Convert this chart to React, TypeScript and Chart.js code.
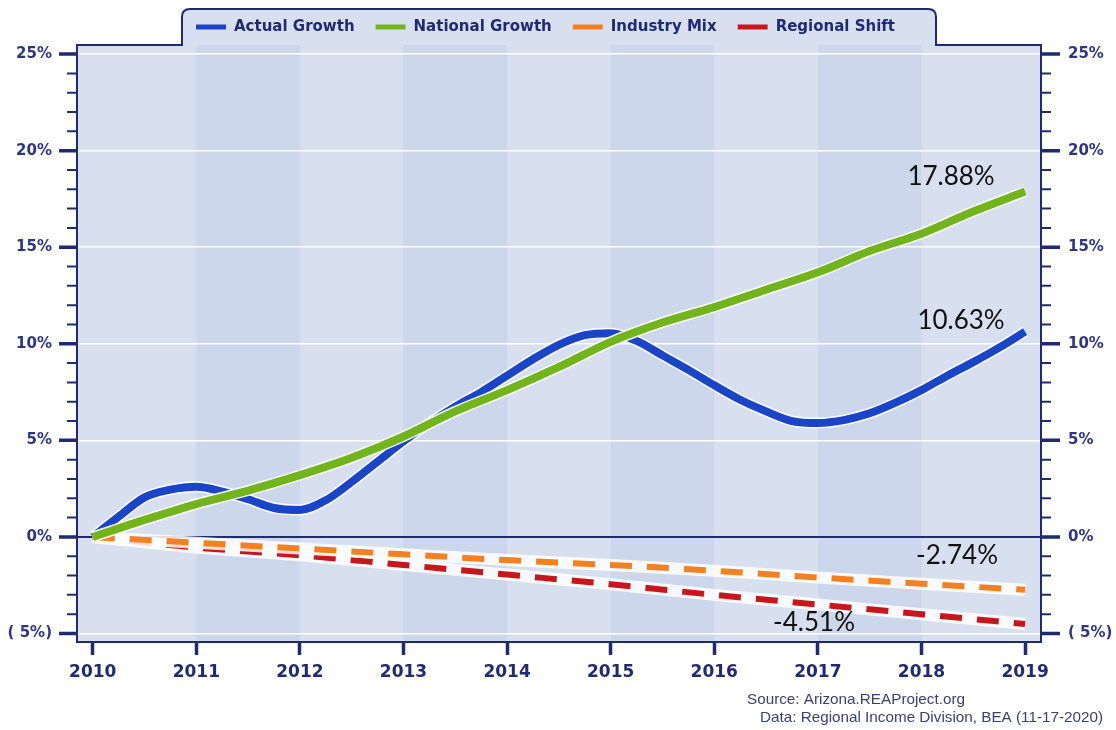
import React, { useEffect, useRef } from 'react';
import { Chart, registerables } from 'chart.js';

Chart.register(...registerables);

// ---------- data ----------
const actualYears = [
  2010, 2010.25, 2010.5, 2010.75, 2011, 2011.25, 2011.5, 2011.75, 2012, 2012.25, 2012.5, 2012.75,
  2013, 2013.25, 2013.5, 2013.75, 2014, 2014.25, 2014.5, 2014.75, 2015, 2015.25, 2015.5, 2015.75,
  2016, 2016.25, 2016.5, 2016.75, 2017, 2017.25, 2017.5, 2017.75, 2018, 2018.25, 2018.5, 2018.75, 2019,
];
const actualGrowth = [
  0, 1.05, 2.05, 2.45, 2.6, 2.35, 1.95, 1.5, 1.4, 1.9, 2.85, 3.9,
  4.95, 5.9, 6.75, 7.5, 8.35, 9.2, 9.95, 10.45, 10.55, 10.15, 9.4, 8.65,
  7.85, 7.1, 6.5, 6.0, 5.9, 6.05, 6.4, 6.95, 7.6, 8.35, 9.05, 9.8, 10.63,
];
const nationalYears = [
  2010, 2010.5, 2011, 2011.5, 2012, 2012.5, 2013, 2013.5, 2014, 2014.5,
  2015, 2015.5, 2016, 2016.5, 2017, 2017.5, 2018, 2018.5, 2019,
];
const nationalGrowth = [
  0, 0.88, 1.7, 2.4, 3.2, 4.1, 5.2, 6.5, 7.6, 8.8,
  10.1, 11.1, 11.9, 12.8, 13.7, 14.8, 15.7, 16.85, 17.88,
];
const annualYears = [2010, 2011, 2012, 2013, 2014, 2015, 2016, 2017, 2018, 2019];
const industryMix = [0, -0.3, -0.6, -0.9, -1.2, -1.45, -1.75, -2.1, -2.42, -2.74];
const regionalShift = [0, -0.55, -0.95, -1.45, -1.95, -2.45, -3.0, -3.5, -4.0, -4.51];

const xTickYears = [2010, 2011, 2012, 2013, 2014, 2015, 2016, 2017, 2018, 2019];
const yTickValues = [
  -5, -4, -3, -2, -1, 0, 1, 2, 3, 4, 5, 6, 7, 8, 9, 10, 11, 12, 13, 14, 15,
  16, 17, 18, 19, 20, 21, 22, 23, 24, 25,
];
const shadedRanges = [
  [2011, 2012],
  [2013, 2014],
  [2015, 2016],
  [2017, 2018],
];
const seriesNames = ['Actual Growth', 'National Growth', 'Industry Mix', 'Regional Shift'];
const seriesColors = ['#1a45c9', '#72b41b', '#f5801f', '#c9161d'];
const endLabels = ['10.63%', '17.88%', '-2.74%', '-4.51%'];
const sourceLines = ['Source: Arizona.REAProject.org', 'Data: Regional Income Division, BEA (11-17-2020)'];

const NAVY = '#1f2a72';
const BG = '#d8e0f0';
const BAND = '#cdd7eb';

const pts = (xs: number[], ys: number[]) => xs.map((x, i) => ({ x, y: ys[i] }));
const fmtPct = (v: number) => (v < 0 ? `( ${-v}%)` : `${v}%`);

const framePlugin = {
  id: 'frame',
  beforeDraw(chart: any) {
    const { ctx, chartArea: a, scales } = chart;
    const x = scales.x;
    ctx.save();
    ctx.fillStyle = '#ffffff';
    ctx.fillRect(0, 0, chart.width, chart.height);
    ctx.fillStyle = BG;
    ctx.fillRect(a.left, a.top, a.right - a.left, a.bottom - a.top);
    // legend tab background
    ctx.beginPath();
    ctx.moveTo(182, a.top + 1);
    ctx.lineTo(182, 17);
    ctx.quadraticCurveTo(182, 9, 190, 9);
    ctx.lineTo(928, 9);
    ctx.quadraticCurveTo(936, 9, 936, 17);
    ctx.lineTo(936, a.top + 1);
    ctx.closePath();
    ctx.fill();
    ctx.fillStyle = BAND;
    shadedRanges.forEach(([s, e]) => {
      const l = x.getPixelForValue(s);
      const r = x.getPixelForValue(e);
      ctx.fillRect(l, a.top, r - l, a.bottom - a.top);
    });
    ctx.restore();
  },
  afterDraw(chart: any) {
    const { ctx, chartArea: a, scales } = chart;
    ctx.save();
    // top frame with legend tab
    ctx.strokeStyle = NAVY;
    ctx.lineWidth = 2;
    ctx.beginPath();
    ctx.moveTo(a.left, a.top);
    ctx.lineTo(182, a.top);
    ctx.lineTo(182, 17);
    ctx.quadraticCurveTo(182, 9, 190, 9);
    ctx.lineTo(928, 9);
    ctx.quadraticCurveTo(936, 9, 936, 17);
    ctx.lineTo(936, a.top);
    ctx.lineTo(a.right, a.top);
    ctx.stroke();

    // y tick marks (major & minor) on both sides
    const y = scales.y;
    yTickValues.forEach((v) => {
      const py = y.getPixelForValue(v);
      const major = v % 5 === 0;
      ctx.lineWidth = major ? 3.5 : 2;
      ctx.beginPath();
      ctx.moveTo(a.left - (major ? 18 : 10), py);
      ctx.lineTo(a.left, py);
      ctx.moveTo(a.right, py);
      ctx.lineTo(a.right + (major ? 19 : 10), py);
      ctx.stroke();
    });

    // legend
    ctx.font = 'bold 15px "DejaVu Sans"';
    ctx.textBaseline = 'middle';
    ctx.textAlign = 'left';
    let lx = 196;
    seriesNames.forEach((name, i) => {
      ctx.fillStyle = seriesColors[i];
      ctx.fillRect(lx, 24.5, 30, 5);
      ctx.fillStyle = NAVY;
      ctx.fillText(name, lx + 38, 27);
      lx += 38 + ctx.measureText(name).width + 21;
    });

    // end value labels
    const offsets = [
      [-64, -11],
      [-74, -15],
      [-68, -34],
      [-211, -1],
    ];
    ctx.font = '26px Lato';
    ctx.fillStyle = '#111111';
    ctx.textAlign = 'center';
    [0, 1, 2, 3].forEach((i) => {
      const meta = chart.getDatasetMeta(i * 2);
      const last = meta.data[meta.data.length - 1];
      ctx.fillText(endLabels[i], last.x + offsets[i][0], last.y + offsets[i][1]);
    });

    // source text
    ctx.font = '15px "Liberation Sans"';
    ctx.fillStyle = '#3a3f6c';
    ctx.textAlign = 'left';
    const srcPos = [
      [747, 700, 218],
      [760, 718, 343],
    ];
    sourceLines.forEach((t, i) => {
      const [sx, sy, sw] = srcPos[i];
      const w = ctx.measureText(t).width;
      ctx.save();
      ctx.translate(sx, sy);
      ctx.scale(sw / w, 1);
      ctx.fillText(t, 0, 0);
      ctx.restore();
    });
    ctx.restore();
  },
};

function makeLine(label: string, data: any[], color: string, dashed: boolean, order: number) {
  return [
    {
      label,
      data,
      borderColor: color,
      borderWidth: dashed ? 6 : 8,
      borderDash: dashed ? [22, 15] : [],
      borderCapStyle: 'butt',
      pointRadius: 0,
      tension: 0.4,
      cubicInterpolationMode: 'monotone',
      order,
    },
    {
      label: label + ' halo',
      data,
      borderColor: dashed ? 'rgba(255,255,255,0.85)' : 'rgba(255,255,255,0.95)',
      borderWidth: dashed ? 12 : 11,
      pointRadius: 0,
      tension: 0.4,
      cubicInterpolationMode: 'monotone',
      order: order + 1,
    },
  ];
}

export default function App() {
  const ref = useRef<HTMLCanvasElement | null>(null);
  useEffect(() => {
    document.body.style.margin = '0';
    const canvas = ref.current!;
    const datasets = [
      ...makeLine(seriesNames[0], pts(actualYears, actualGrowth), seriesColors[0], false, 2),
      ...makeLine(seriesNames[1], pts(nationalYears, nationalGrowth), seriesColors[1], false, 0),
      ...makeLine(seriesNames[2], pts(annualYears, industryMix), seriesColors[2], true, 4),
      ...makeLine(seriesNames[3], pts(annualYears, regionalShift), seriesColors[3], true, 6),
    ];
    const chart = new Chart(canvas, {
      type: 'line',
      data: { datasets: datasets as any },
      options: {
        animation: false,
        responsive: false,
        devicePixelRatio: 1,
        layout: { padding: { top: 45, left: 0, right: 0, bottom: 0 } },
        plugins: { legend: { display: false }, tooltip: { enabled: false } },
        scales: {
          x: {
            type: 'linear',
            min: 2009.848,
            max: 2019.154,
            afterBuildTicks: (s: any) => {
              s.ticks = xTickYears.map((v) => ({ value: v }));
            },
            afterFit: (s: any) => {
              s.height = 88;
            },
            grid: {
              drawOnChartArea: false,
              drawTicks: true,
              tickLength: 13,
              tickWidth: 3.5,
              tickColor: NAVY,
            },
            border: { display: true, color: NAVY, width: 2 },
            ticks: {
              autoSkip: false,
              maxRotation: 0,
              padding: 7,
              color: NAVY,
              font: { family: '"DejaVu Sans"', size: 17, weight: 'bold' },
              callback: (v: any) => String(v),
            },
          },
          y: {
            type: 'linear',
            position: 'left',
            min: -5.44,
            max: 25.47,
            afterBuildTicks: (s: any) => {
              s.ticks = yTickValues.map((v) => ({ value: v }));
            },
            afterFit: (s: any) => {
              s.width = 77;
            },
            grid: {
              drawOnChartArea: true,
              drawTicks: false,
              color: (c: any) =>
                c.tick && c.tick.value === 0
                  ? NAVY
                  : c.tick && c.tick.value % 5 === 0
                  ? '#ffffff'
                  : 'rgba(0,0,0,0)',
              lineWidth: (c: any) => (c.tick && c.tick.value === 0 ? 2 : 1.5),
            },
            border: { display: true, color: NAVY, width: 2 },
            ticks: {
              autoSkip: false,
              padding: 25,
              color: '#2d3588',
              font: { family: '"DejaVu Sans"', size: 15, weight: 'bold' },
              callback: (v: any) => (Number(v) % 5 === 0 ? fmtPct(Number(v)) : ''),
            },
          },
          y2: {
            type: 'linear',
            position: 'right',
            min: -5.44,
            max: 25.47,
            afterBuildTicks: (s: any) => {
              s.ticks = yTickValues.map((v) => ({ value: v }));
            },
            afterFit: (s: any) => {
              s.width = 75;
            },
            grid: { drawOnChartArea: false, drawTicks: false },
            border: { display: true, color: NAVY, width: 2 },
            ticks: {
              autoSkip: false,
              padding: 27,
              color: '#2d3588',
              font: { family: '"DejaVu Sans"', size: 15, weight: 'bold' },
              callback: (v: any) => (Number(v) % 5 === 0 ? fmtPct(Number(v)) : ''),
            },
          },
        },
      } as any,
      plugins: [framePlugin],
    });
    return () => chart.destroy();
  }, []);
  return (
    <div style={{ width: 1116, height: 730 }}>
      <canvas ref={ref} width={1116} height={730} style={{ display: 'block' }} />
    </div>
  );
}
